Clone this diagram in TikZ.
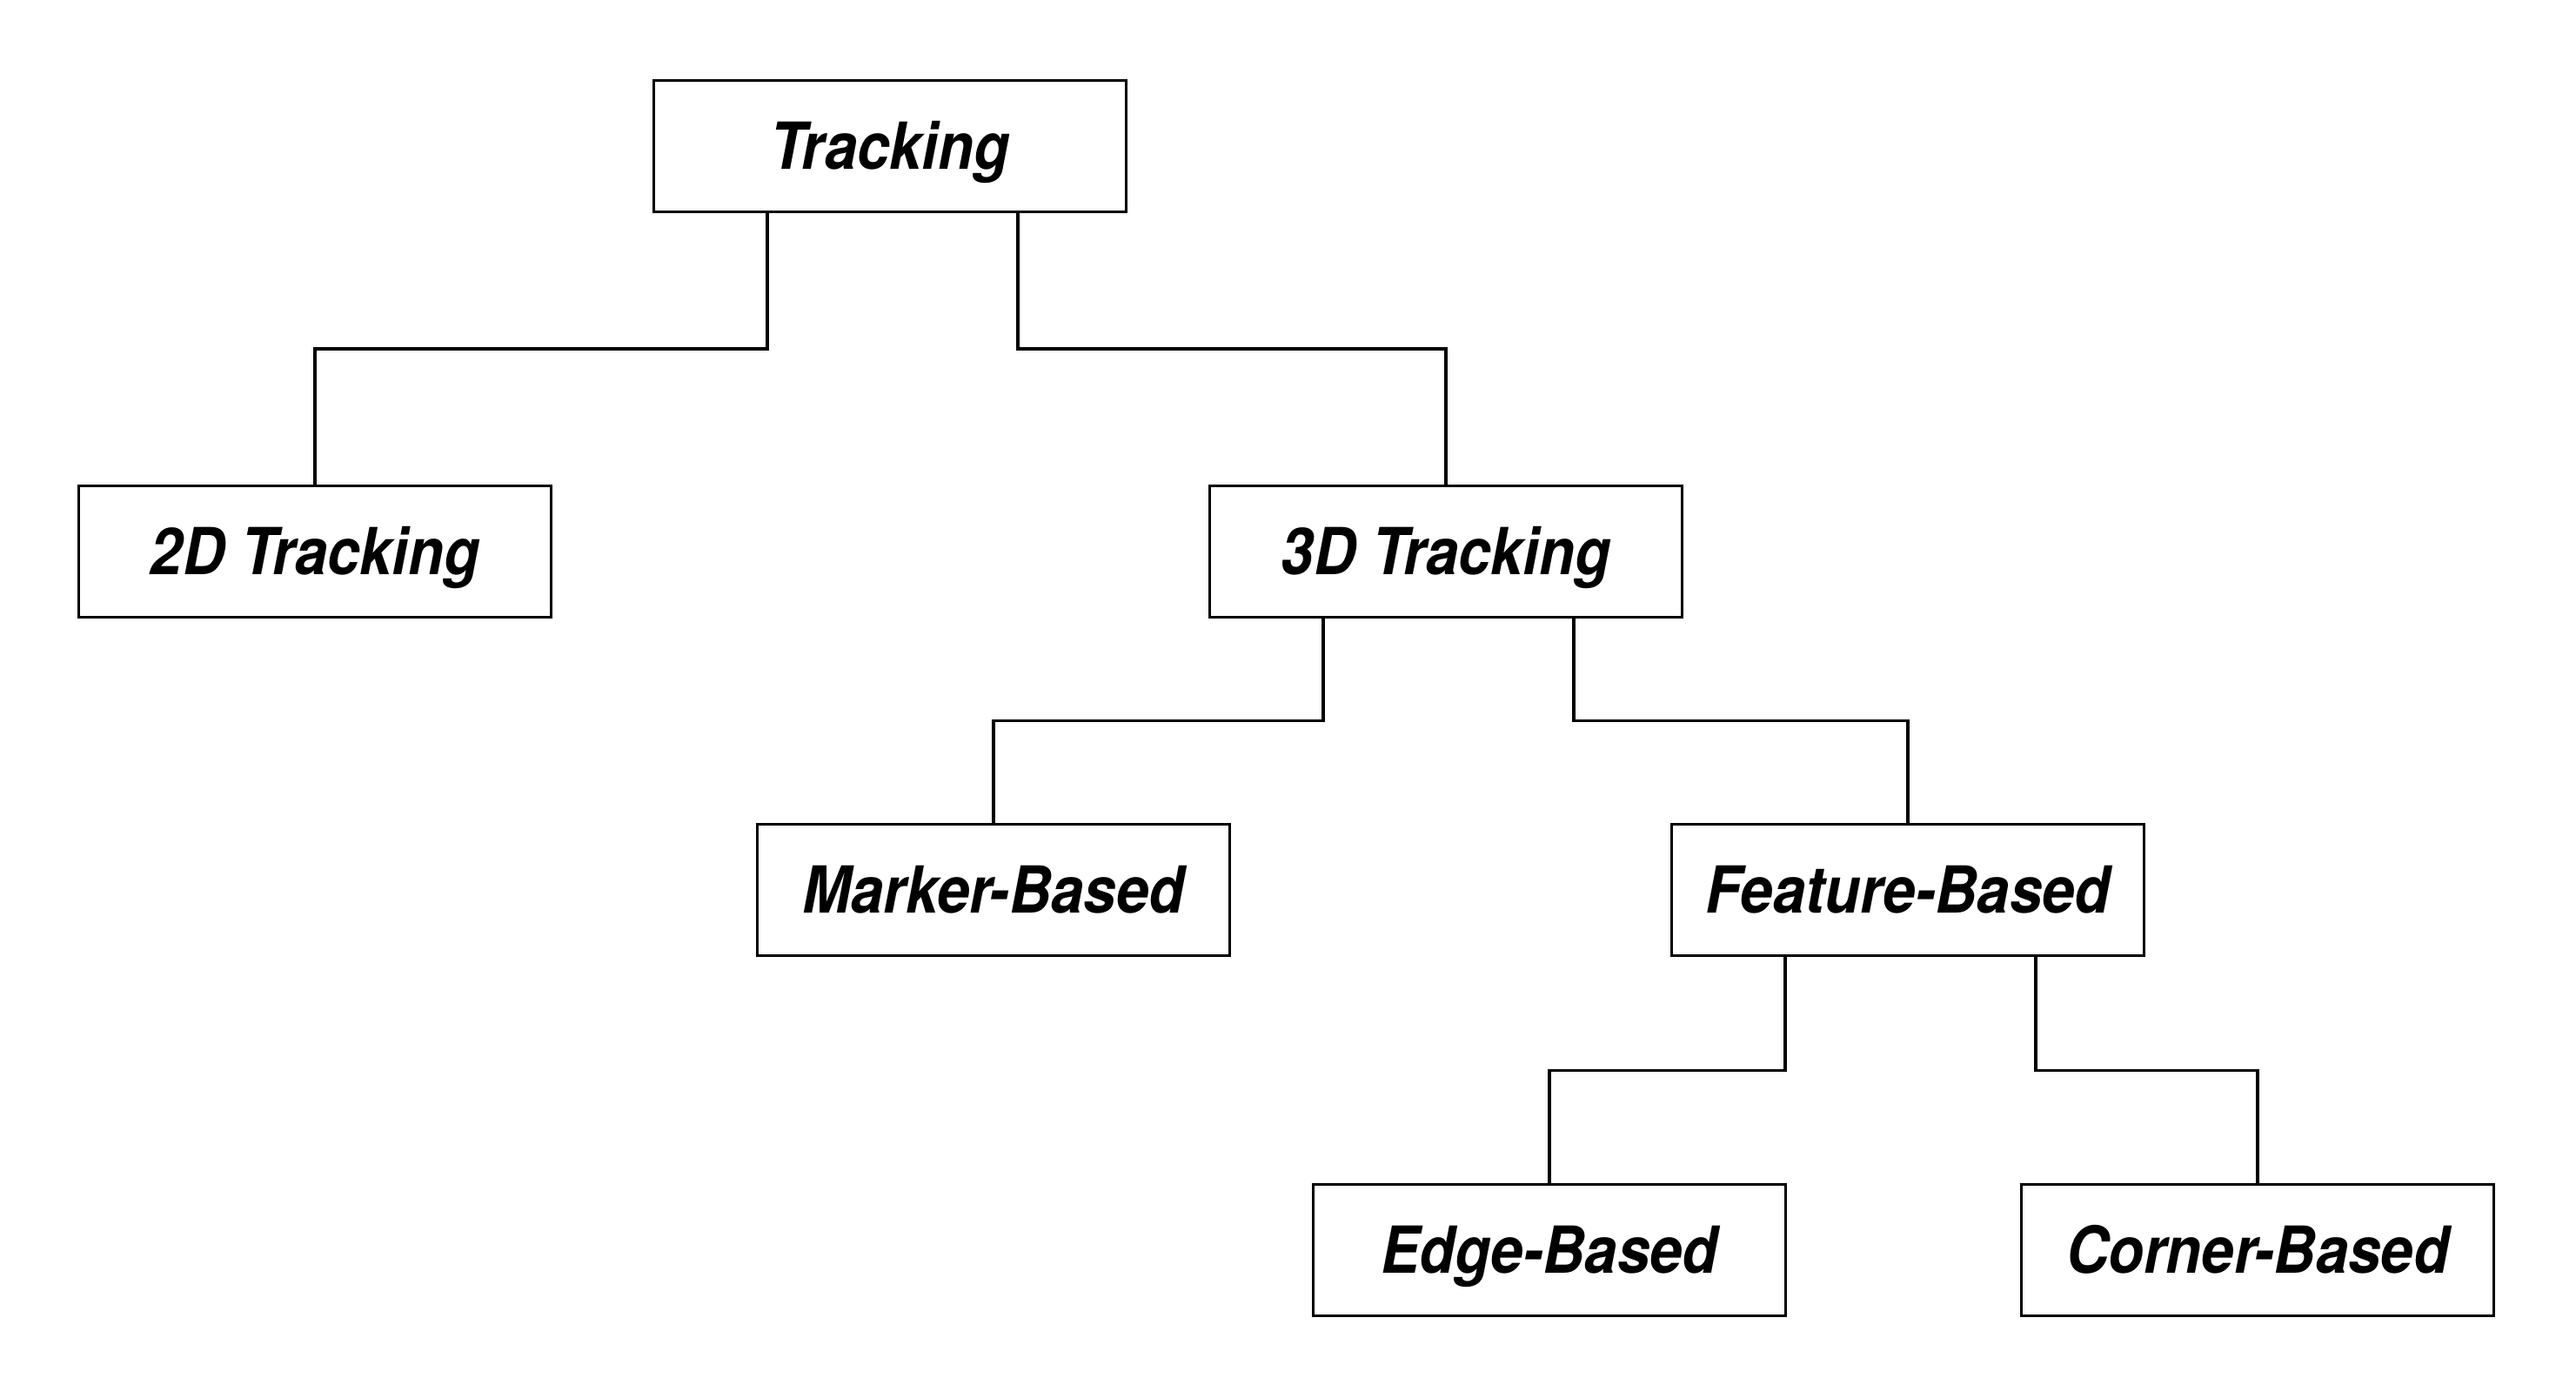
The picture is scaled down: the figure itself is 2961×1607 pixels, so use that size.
\documentclass[tikz,border=0pt]{standalone}
\usepackage{fontspec}
\newfontfamily\lblfont[FakeStretch=0.9]{TeX Gyre Heros}
\begin{document}
\begin{tikzpicture}[x=0.1mm,y=-0.1mm,
  box/.style={draw=black, line width=1.1pt, fill=white, inner sep=0pt,
    minimum width=54.3mm, minimum height=15.1mm,
    font=\lblfont\bfseries\itshape\fontsize{21.2pt}{24pt}\selectfont,
    text height=15.2pt, text depth=0pt},
  conn/.style={draw=black, line width=1.1pt, line join=miter}]
\useasboundingbox (0,0) rectangle (2961,1607);
\fill[white] (0,0) rectangle (2961,1607);
\node[box] (trk) at (1023,168) {Tracking};
\node[box] (t2d) at (362,634) {2D Tracking};
\node[box] (t3d) at (1662,634) {3D Tracking};
\node[box] (mrk) at (1142,1023) {Marker-Based};
\node[box] (fea) at (2193,1023) {Feature-Based};
\node[box] (edg) at (1781,1437) {Edge-Based};
\node[box] (cor) at (2595,1437) {Corner-Based};
% connectors
\draw[conn] ([xshift=-14.1mm]trk.south) -- ++(0,156) -| (t2d.north);
\draw[conn] ([xshift=14.7mm]trk.south) -- ++(0,156) -| (t3d.north);
\draw[conn] ([xshift=-14.1mm]t3d.south) -- ++(0,117) -| (mrk.north);
\draw[conn] ([xshift=14.7mm]t3d.south) -- ++(0,117) -| (fea.north);
\draw[conn] ([xshift=-14.1mm]fea.south) -- ++(0,130) -| (edg.north);
\draw[conn] ([xshift=14.7mm]fea.south) -- ++(0,130) -| (cor.north);
\end{tikzpicture}
\end{document}
